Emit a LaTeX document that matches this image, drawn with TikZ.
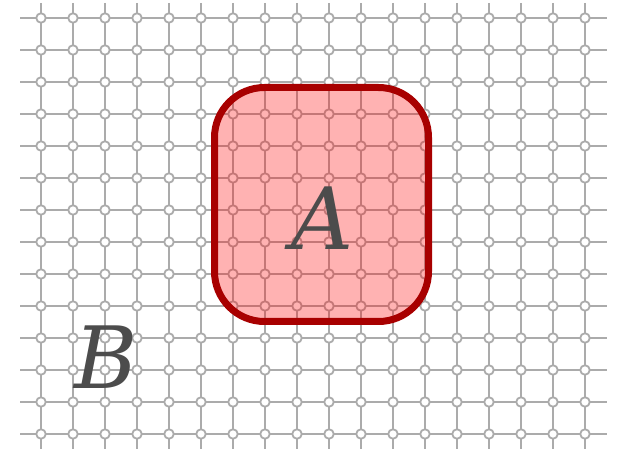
\documentclass[tikz,border=0pt]{standalone}
\usepackage{fontspec}
\newfontfamily\lblfont{DejaVu Serif}
\begin{document}
\begin{tikzpicture}[x=1pt,y=-1pt,
  gridline/.style={draw=black!33,line width=2.2pt},
  gridpt/.style={circle,draw=black!33,fill=white,line width=1.8pt,inner sep=0pt,minimum size=9.5pt},
  regionbox/.style={draw={rgb,255:red,168;green,0;blue,0},line width=7pt,fill=red,fill opacity=0.3,draw opacity=1,rounded corners=50pt,inner sep=0pt},
  lbl/.style={text=black!70,font=\lblfont\itshape\fontsize{86}{86}\selectfont,inner sep=0pt}]
\useasboundingbox (0,0) rectangle (619,449);
\foreach \i in {0,...,17} {
  \draw[gridline] (41+32*\i,3) -- (41+32*\i,449);
}
\foreach \j in {0,...,13} {
  \draw[gridline] (20,18+32*\j) -- (607,18+32*\j);
}
\foreach \i in {0,...,17} {
  \foreach \j in {0,...,13} {
    \node[gridpt] at (41+32*\i,18+32*\j) {};
  }
}
\node[regionbox,minimum width=214pt,minimum height=234pt] (boxA) at (321.5,204.5) {};
\node[lbl] (A) at (322.5,218.5) {A};
\node[lbl] (B) at (106,357.5) {B};
\end{tikzpicture}
\end{document}
